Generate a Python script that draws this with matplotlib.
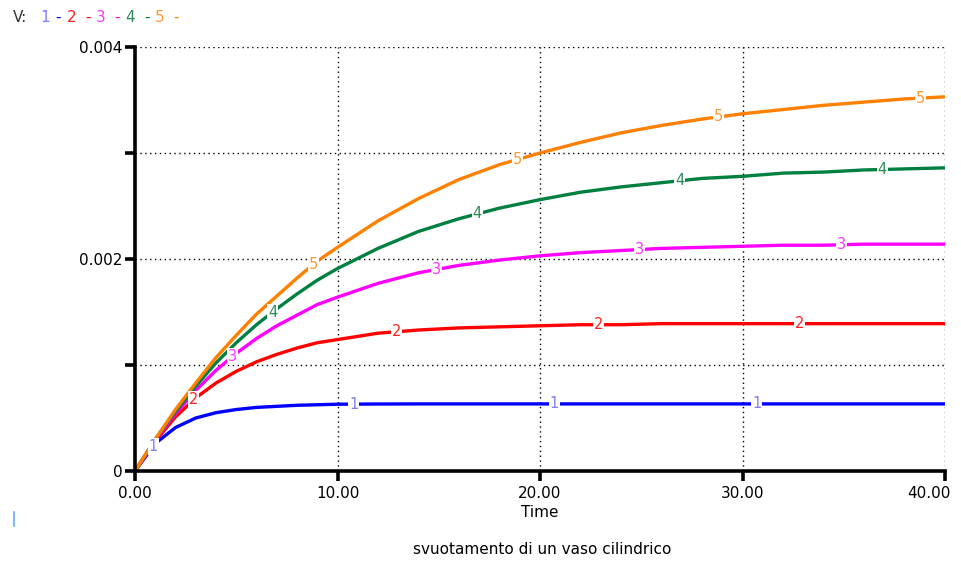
import numpy as np
import matplotlib
matplotlib.use("Agg")
import matplotlib.pyplot as plt
from matplotlib.transforms import ScaledTranslation

# ---- data ----
time = [0, 1, 2, 3, 4, 5, 6, 7, 8, 9, 10, 12, 14, 16, 18, 20, 22, 24, 26, 28, 30, 32, 34, 36, 38, 40]
v1 = [0, 0.00026, 0.00041, 0.00050, 0.00055, 0.00058, 0.00060, 0.00061, 0.00062, 0.000625, 0.00063,
      0.000632, 0.000633, 0.000633, 0.000633, 0.000633, 0.000633, 0.000633, 0.000633, 0.000633,
      0.000633, 0.000633, 0.000633, 0.000633, 0.000633, 0.000633]
v2 = [0, 0.00028, 0.00051, 0.00069, 0.00083, 0.00094, 0.00103, 0.00110, 0.00116, 0.00121, 0.00124,
      0.00130, 0.00133, 0.00135, 0.00136, 0.00137, 0.00138, 0.00138, 0.00139, 0.00139,
      0.00139, 0.00139, 0.00139, 0.00139, 0.00139, 0.00139]
v3 = [0, 0.00029, 0.00054, 0.00076, 0.00095, 0.00111, 0.00125, 0.00137, 0.00147, 0.00157, 0.00164,
      0.00177, 0.00187, 0.00194, 0.00199, 0.00203, 0.00206, 0.00208, 0.00210, 0.00211,
      0.00212, 0.00213, 0.00213, 0.00214, 0.00214, 0.00214]
v4 = [0, 0.00030, 0.00056, 0.00080, 0.00102, 0.00121, 0.00138, 0.00153, 0.00167, 0.00180, 0.00191,
      0.00210, 0.00226, 0.00238, 0.00248, 0.00256, 0.00263, 0.00268, 0.00272, 0.00276,
      0.00278, 0.00281, 0.00282, 0.00284, 0.00285, 0.00286]
v5 = [0, 0.00030, 0.00058, 0.00083, 0.00107, 0.00128, 0.00148, 0.00165, 0.00182, 0.00198, 0.00211,
      0.00236, 0.00257, 0.00275, 0.00289, 0.00300, 0.00310, 0.00319, 0.00326, 0.00332,
      0.00337, 0.00341, 0.00345, 0.00348, 0.00351, 0.00353]
series = [v1, v2, v3, v4, v5]
series_names = ["1", "2", "3", "4", "5"]
label_times = [[0.9, 10.8, 20.7, 30.7],
               [2.9, 12.9, 22.9, 32.8],
               [4.8, 14.9, 24.9, 34.9],
               [6.8, 16.9, 26.9, 36.9],
               [8.8, 18.9, 28.8, 38.8]]
x_ticks = [0, 10, 20, 30, 40]
x_ticklabels = ["0.00", "10.00", "20.00", "30.00", "40.00"]
y_major = [0, 0.002, 0.004]
y_major_labels = ["0", "0.002", "0.004"]
y_minor = [0.001, 0.003]

line_colors = ["#0000ff", "#ff0000", "#ff00ff", "#008040", "#ff8000"]
text_colors = ["#7f7fff", "#ff2020", "#ff33ff", "#2a8a5a", "#ff9933"]

plt.rcParams['font.family'] = ['DejaVu Sans']

fig = plt.figure(figsize=(9.62, 5.65), dpi=100)
ax = fig.add_axes([135/962, 1-471/565, 810/962, 424/565])

for v, c in zip(series, line_colors):
    ax.plot(time, v, color=c, lw=2.4, solid_capstyle='butt', zorder=3)

for v, name, lts, tc in zip(series, series_names, label_times, text_colors):
    for lt in lts:
        yv = np.interp(lt, time, v)
        ax.text(lt, yv, name, color=tc, fontsize=10.5, ha='center', va='center', zorder=5,
                bbox=dict(boxstyle='square,pad=0.06', fc='white', ec='none'))

ax.set_xlim(0, 40)
ax.set_ylim(0, 0.004)

# grid
for gx in [10, 20, 30, 40]:
    ax.axvline(gx, color='black', lw=1.0, ls=(0, (1, 2.5)), zorder=1)
for gy in [0.001, 0.002, 0.003, 0.004]:
    ax.axhline(gy, color='black', lw=1.0, ls=(0, (1, 2.5)), zorder=1)

for s in ['top', 'right']:
    ax.spines[s].set_visible(False)
for s in ['left', 'bottom']:
    ax.spines[s].set_linewidth(2.6)
    ax.spines[s].set_zorder(6)

ax.set_xticks(x_ticks)
ax.set_xticklabels(x_ticklabels)
ax.set_yticks(y_major)
ax.set_yticklabels(y_major_labels)
ax.set_yticks(y_minor, minor=True)
ax.tick_params(axis='both', which='both', direction='out', length=7, width=2.6,
               labelsize=11, colors='black')
ax.tick_params(axis='x', pad=4)
ax.tick_params(axis='y', pad=2)

# keep the last x tick label inside the figure
last = ax.get_xticklabels()[-1]
last.set_horizontalalignment('right')
last.set_transform(last.get_transform() + ScaledTranslation(6/100, 0, fig.dpi_scale_trans))

ax.set_xlabel("Time", fontsize=11, labelpad=3)

fig.text(542/962, 1-550/565, "svuotamento di un vaso cilindrico", fontsize=11,
         ha='center', va='center')

# legend line at top
pieces = [("V:", "#333333", 13), ("1", text_colors[0], 40), ("-", line_colors[0], 55),
          ("2", text_colors[1], 67), ("-", line_colors[1], 85), ("3", text_colors[2], 96),
          ("-", line_colors[2], 114), ("4", text_colors[3], 125), ("-", line_colors[3], 144),
          ("5", text_colors[4], 155), ("-", line_colors[4], 173)]
for txt, col, px in pieces:
    fig.text(px/962, 1-17/565, txt, color=col, fontsize=11, ha='left', va='center')

# small cursor mark bottom-left
fig.add_artist(plt.Line2D([14/962, 14/962], [1-526/565, 1-512/565], color='#66aaff', lw=1.2))

fig.savefig("out.png", dpi=100)
